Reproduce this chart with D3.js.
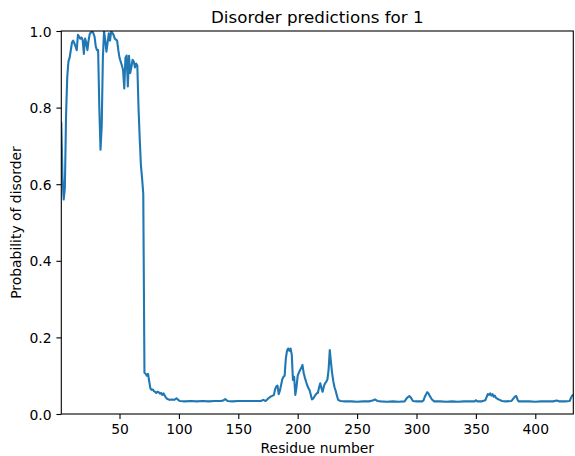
<!DOCTYPE html>
<html>
<head>
<meta charset="utf-8">
<script src="https://cdn.jsdelivr.net/npm/d3@7"></script>
<style>
  html, body { margin: 0; padding: 0; background: #fff; }
  svg { display: block; }
  text { font-family: "DejaVu Sans", sans-serif; fill: #000; }
</style>
</head>
<body>
<script>
// ---- data ----
const title = "Disorder predictions for 1";
const xLabel = "Residue number";
const yLabel = "Probability of disorder";
const sequenceLength = 432;
const xTicks = [50, 100, 150, 200, 250, 300, 350, 400];
const yTicks = [0.0, 0.2, 0.4, 0.6, 0.8, 1.0];

const residues = [
  1, 2, 3, 4, 5, 6, 7, 8, 10, 11, 12, 13, 14, 15, 17, 18, 19, 20, 21, 22, 23, 24, 25, 27, 28, 29, 30,
  31, 32, 33, 34, 35, 36, 37, 38, 39, 40, 41, 42, 43, 45, 46, 48, 49, 50, 52, 53, 54, 55, 56, 57, 58,
  59, 60, 61, 62, 63, 64, 65, 66, 67, 68, 69, 70, 71, 72, 73, 74, 75, 76, 77, 78, 79, 80, 81, 82, 83,
  84, 85, 86, 87, 89, 90, 92, 94, 96, 98, 100, 101, 105, 110, 115, 120, 125, 130, 135, 137, 139, 141,
  145, 150, 155, 160, 165, 169, 171, 173, 175, 177, 179, 180, 181, 182, 183, 184, 185, 186, 187, 188,
  189, 190, 191, 192, 193, 194, 195, 196, 197, 198, 199, 200, 201, 202, 203, 204, 205, 206, 207, 208,
  209, 210, 211, 212, 213, 214, 215, 216, 217, 218, 219, 220, 221, 222, 223, 224, 225, 226, 227, 228,
  229, 230, 231, 232, 233, 234, 236, 240, 245, 250, 255, 260, 263, 265, 267, 270, 275, 280, 285, 290,
  292, 294, 295, 297, 300, 305, 306, 307, 309, 310, 311, 313, 315, 320, 325, 330, 335, 340, 345, 349,
  350, 351, 355, 358, 360, 361, 362, 363, 364, 365, 366, 367, 368, 370, 372, 375, 380, 381, 383, 384,
  385, 386, 390, 395, 400, 405, 410, 415, 418, 420, 425, 429, 430, 431, 432
];
const disorder = [
  0.76, 0.62, 0.56, 0.59, 0.78, 0.88, 0.92, 0.93, 0.97, 0.975, 0.968, 0.96, 0.95, 0.99, 0.98, 0.983, 0.976, 0.94, 0.98, 0.97, 0.95, 0.976, 0.993, 1.0, 0.994, 0.985, 0.96,
  0.95, 0.95, 0.80, 0.69, 0.75, 0.93, 1.0, 0.975, 0.946, 0.97, 0.994, 0.975, 1.0, 0.99, 0.98, 0.975, 0.95, 0.93, 0.91, 0.898, 0.85, 0.93, 0.936, 0.855, 0.935,
  0.89, 0.905, 0.925, 0.92, 0.905, 0.915, 0.91, 0.80, 0.72, 0.65, 0.615, 0.575, 0.108, 0.105, 0.10, 0.105, 0.085, 0.067, 0.063, 0.064, 0.06, 0.058, 0.055, 0.058, 0.057,
  0.053, 0.055, 0.05, 0.054, 0.043, 0.04, 0.037, 0.038, 0.037, 0.041, 0.035, 0.034, 0.033, 0.034, 0.033, 0.034, 0.033, 0.034, 0.034, 0.035, 0.039, 0.034,
  0.033, 0.034, 0.034, 0.034, 0.034, 0.034, 0.037, 0.034, 0.04, 0.045, 0.048, 0.05, 0.065, 0.072, 0.074, 0.052, 0.061, 0.075, 0.09, 0.097,
  0.1, 0.145, 0.165, 0.171, 0.165, 0.171, 0.155, 0.089, 0.097, 0.05, 0.07, 0.1, 0.108, 0.115, 0.12, 0.128, 0.108, 0.095, 0.085, 0.075,
  0.068, 0.062, 0.05, 0.038, 0.04, 0.045, 0.05, 0.054, 0.055, 0.07, 0.08, 0.067, 0.058, 0.072, 0.08, 0.084, 0.09, 0.115, 0.167, 0.135,
  0.106, 0.085, 0.07, 0.06, 0.048, 0.037, 0.034, 0.033, 0.033, 0.032, 0.033, 0.033, 0.035, 0.038, 0.034, 0.033, 0.032, 0.033, 0.032, 0.033,
  0.042, 0.047, 0.044, 0.034, 0.033, 0.033, 0.036, 0.045, 0.057, 0.054, 0.048, 0.038, 0.033, 0.033, 0.032, 0.033, 0.032, 0.033, 0.033, 0.033,
  0.036, 0.033, 0.033, 0.036, 0.052, 0.05, 0.054, 0.048, 0.052, 0.045, 0.048, 0.042, 0.04, 0.037, 0.034, 0.033, 0.034, 0.038, 0.046, 0.047,
  0.038, 0.033, 0.033, 0.033, 0.032, 0.033, 0.033, 0.033, 0.035, 0.033, 0.033, 0.034, 0.042, 0.048, 0.05
];

// ---- layout ----
const W = 575, H = 456;
const mLeft = 61.3, mRight = 573.3, mTop = 31, mBottom = 414;
const fontSize = 13.9, titleSize = 16.7;

const svg = d3.select("body").append("svg").attr("width", W).attr("height", H);

const x = d3.scaleLinear().domain([1, sequenceLength]).range([mLeft, mRight]);
const y = d3.scaleLinear().domain([0, 1]).range([mBottom, mTop]);

const points = residues.map((r, i) => [r, disorder[i]]);

svg.append("clipPath").attr("id", "clip")
  .append("rect").attr("x", mLeft).attr("y", mTop).attr("width", mRight - mLeft).attr("height", mBottom - mTop);

svg.append("path")
  .datum(points)
  .attr("clip-path", "url(#clip)")
  .attr("fill", "none")
  .attr("stroke", "#1f77b4")
  .attr("stroke-width", 2.1)
  .attr("stroke-linejoin", "round")
  .attr("stroke-linecap", "square")
  .attr("d", d3.line().x(d => x(d[0])).y(d => y(d[1])));

// axes
const xAxis = d3.axisBottom(x).tickValues(xTicks).tickSize(4.9).tickPadding(4.9).tickFormat(d3.format("d"));
const yAxis = d3.axisLeft(y).tickValues(yTicks).tickSize(4.9).tickPadding(4.9).tickFormat(d3.format(".1f"));

const gx = svg.append("g").attr("transform", `translate(0,${mBottom})`).call(xAxis);
const gy = svg.append("g").attr("transform", `translate(${mLeft},0)`).call(yAxis);

[gx, gy].forEach(g => {
  g.select(".domain").remove();
  g.selectAll(".tick line").attr("stroke", "#000").attr("stroke-width", 1.1);
  g.selectAll(".tick text").attr("font-family", "DejaVu Sans").attr("font-size", fontSize).attr("fill", "#000");
});
gx.selectAll(".tick text").attr("dy", null).attr("y", 4.9 + 4.9 + 10.6);
gy.selectAll(".tick text").attr("dy", "0.36em");

// spines
svg.append("rect")
  .attr("x", mLeft).attr("y", mTop).attr("width", mRight - mLeft).attr("height", mBottom - mTop)
  .attr("fill", "none").attr("stroke", "#000").attr("stroke-width", 1.1);

// title and labels
svg.append("text")
  .attr("x", (mLeft + mRight) / 2).attr("y", 22.7)
  .attr("text-anchor", "middle").attr("font-size", titleSize)
  .text(title);

svg.append("text")
  .attr("x", (mLeft + mRight) / 2).attr("y", 452.5)
  .attr("text-anchor", "middle").attr("font-size", fontSize)
  .text(xLabel);

svg.append("text")
  .attr("transform", `translate(20.5,${(mTop + mBottom) / 2}) rotate(-90)`)
  .attr("text-anchor", "middle").attr("font-size", fontSize)
  .text(yLabel);
</script>
</body>
</html>
